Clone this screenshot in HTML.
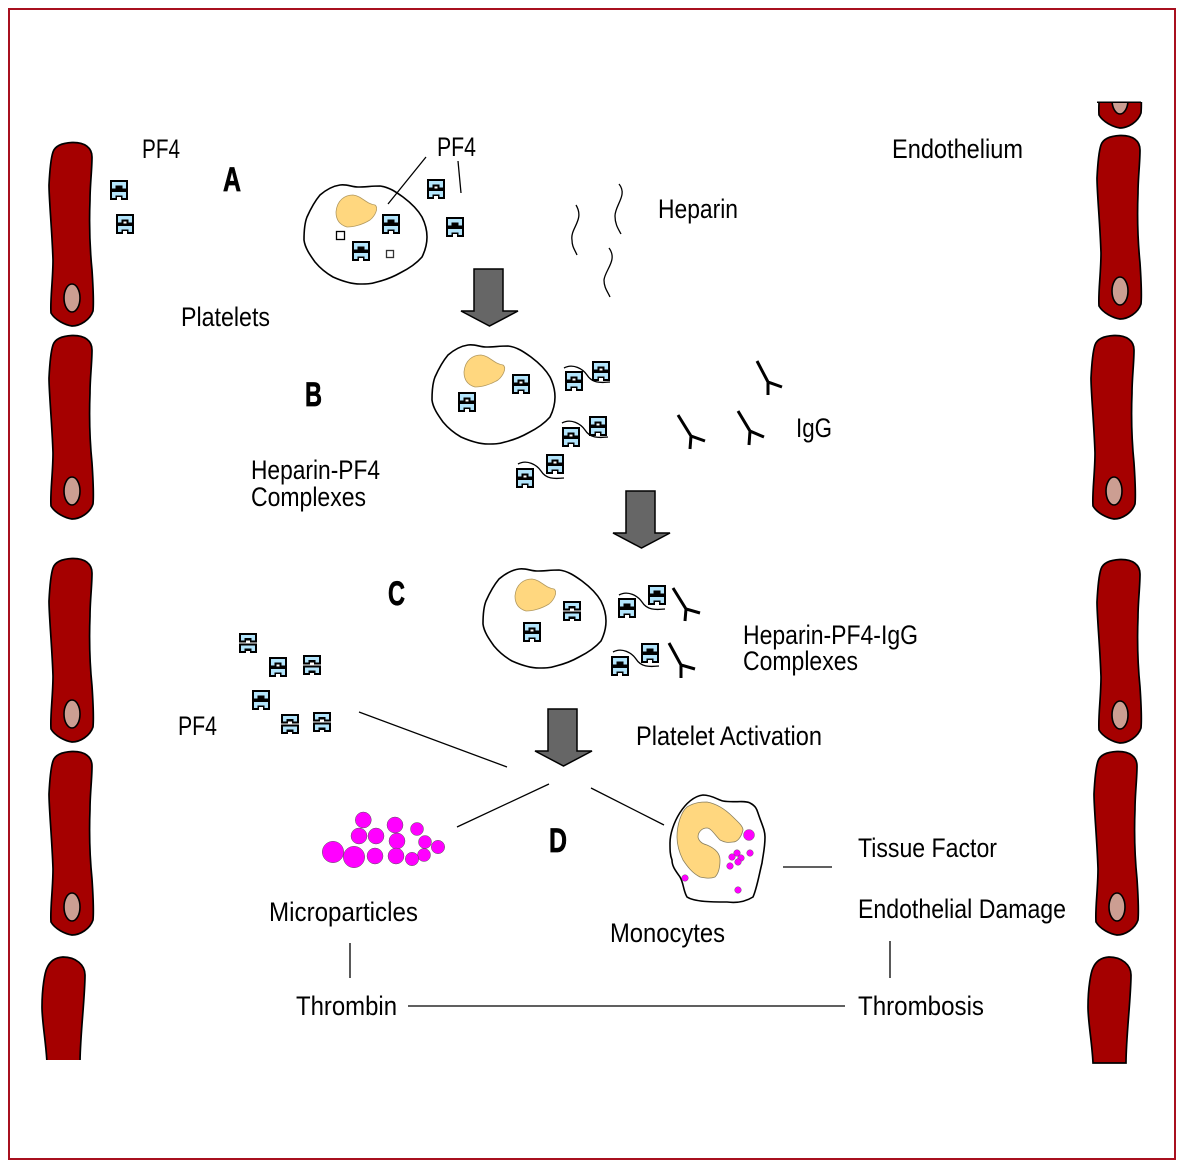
<!DOCTYPE html>
<html><head><meta charset="utf-8"><style>
html,body{margin:0;padding:0;background:#fff}
svg{display:block}
text{font-family:"Liberation Sans",sans-serif;font-size:27px;fill:#000}
.l{font-weight:bold;font-size:34px;stroke:#000;stroke-width:.7px}
</style></head><body>
<svg width="1185" height="1167" viewBox="0 0 1185 1167" xmlns="http://www.w3.org/2000/svg">
<defs>
<g id="cell">
<path d="M23,.5C36,0 43,6 43,15C43,28 41,43 41,58C40,83 41,108 43,128C44,143 45,158 44,169C41,178 31,184 23,184C16,183 6,178 2,171C1,158 4,138 4,118C3,88 0,58 0,43C1,23 3,13 4,10C6,4 13,1 23,.5Z" fill="#A50000" stroke="#000" stroke-width="1.700"/>
<ellipse cx="23" cy="156" rx="8" ry="14" fill="#CC9E92" stroke="#000" stroke-width="1.600"/>
</g>
<g id="pa">
<rect width="18" height="20" fill="#000"/>
<path d="M2,2H16V8.500H12.500V5.500H5.500V8.500H2ZM2,12H16V18H12.500V15.500H5.500V18H2Z" fill="#B3E5FC"/>
<path d="M7.500,7.500h3v2h-3ZM7,17h4V20H7Z" fill="#fff"/>
</g>
<g id="pb">
<rect width="18" height="20" fill="#000"/>
<path d="M2,2H16V8.500H12.500V5.500H5.500V8.500H2ZM2,12H16V18H12.500V15.500H5.500V18H2Z" fill="#B3E5FC"/>
<path d="M7,17h4V20H7Z" fill="#fff"/>
</g>
<g id="pc">
<path d="M0,0H18V9.500H11V7.500H7V9.500H0ZM0,10.500H18V20H11V18H7V20H0Z" fill="#000"/>
<path d="M2,2H16V7.500H12.500V5H5.500V7.500H2ZM2,12.500H16V18H12.500V15.500H5.500V18H2Z" fill="#B3E5FC"/>
</g>
<path id="plate" d="M304,240C304,228 305,222 307,217C311,208 315,201 320,195C327,189 333,186 340,185C347,184 352,187 358,187C365,187 372,186 380,186C389,187 396,192 403,197C411,203 418,210 422,217C425,223 427,230 427,237C427,244 425,251 422,257C416,264 408,269 400,273C393,277 385,280 377,282C371,284 366,284 360,284C351,284 342,281 333,277C326,273 320,268 315,262C310,255 305,248 304,240Z" fill="#fff" stroke="#000" stroke-width="1.600"/>
<path id="nuc" d="M336,212C337,200 345,195 353,195C362,196 366,204 375,205C379,208 375,216 370,220C362,225 353,227 347,227C340,225 336,220 336,212Z" fill="#FFD77F" stroke="#B39A60" stroke-width=".8"/>
<path id="hep" d="M0,4C9,-1 19,5 23,11C28,19 36,19 46,18" fill="none" stroke="#000" stroke-width="1.300"/>
<path id="arrow" d="M13,0H42V42H57L28.500,57L0,42H13Z" fill="#666" stroke="#000" stroke-width="1.500"/>
<clipPath id="cl2"><rect x="0" y="158" width="60" height="30"/></clipPath>
<path id="crop" d="M20,0C33,0 42,8 42,18C42,40 37,80 37,106H4C3,85 -1,65 -1,50C-1,30 2,15 4,11C7,4 12,.5 20,0Z" fill="#A50000" stroke="#000" stroke-width="1.700"/>
<clipPath id="cl3"><rect x="-5" y="-3" width="60" height="106"/></clipPath>
</defs>
<rect x="9" y="9" width="1166" height="1150" fill="#fff" stroke="#A8101F" stroke-width="2"/>

<use href="#cell" x="49" y="142"/>
<use href="#cell" x="49" y="335"/>
<use href="#cell" x="49" y="558"/>
<use href="#cell" x="49" y="751"/>
<g transform="translate(43,957)" clip-path="url(#cl3)"><use href="#crop"/></g>
<use href="#cell" x="1097" y="135"/>
<use href="#cell" x="1091" y="335"/>
<use href="#cell" x="1097" y="559"/>
<use href="#cell" x="1094" y="751"/>
<g transform="translate(1089,957)"><use href="#crop"/></g>
<g transform="translate(1097,-56)" clip-path="url(#cl2)"><use href="#cell"/></g>
<rect x="1097" y="101.500" width="44" height="1.500" fill="#000"/>

<use href="#plate"/><use href="#nuc"/>
<g transform="translate(128,160)"><use href="#plate"/><use href="#nuc"/></g>
<g transform="translate(179,384)"><use href="#plate"/><use href="#nuc"/></g>

<rect x="336.500" y="231.500" width="8" height="8" fill="#fff" stroke="#000" stroke-width="1.300"/>
<rect x="386.500" y="250.500" width="7" height="7" fill="#fff" stroke="#333" stroke-width="1.300"/>

<use href="#arrow" x="461" y="269"/>
<use href="#arrow" x="613" y="491"/>
<use href="#arrow" x="535" y="709"/>

<g fill="none" stroke="#000" stroke-width="1.300">
<path d="M619,184C628,195 615,205 615,216C615,225 619,230 621,234"/>
<path d="M576,205C585,220 570,228 572,240C572,247 575,250 577,255"/>
<path d="M609,248C618,260 605,270 604,280C604,288 608,292 610,297"/>
</g>

<use href="#hep" x="564" y="364"/>
<use href="#hep" x="562" y="419"/>
<use href="#hep" x="518" y="460"/>
<use href="#hep" x="619" y="591"/>
<use href="#hep" x="613" y="648"/>

<use href="#pb" x="110" y="180"/>
<use href="#pa" x="116" y="214"/>
<use href="#pb" x="382" y="214"/>
<use href="#pb" x="352" y="241"/>
<use href="#pa" x="427" y="179"/>
<use href="#pb" x="446" y="217"/>
<use href="#pa" x="512" y="374"/>
<use href="#pa" x="458" y="392"/>
<use href="#pa" x="565" y="371"/>
<use href="#pa" x="592" y="361"/>
<use href="#pa" x="562" y="427"/>
<use href="#pa" x="589" y="416"/>
<use href="#pa" x="516" y="468"/>
<use href="#pa" x="546" y="454"/>
<use href="#pc" x="563" y="601"/>
<use href="#pa" x="523" y="622"/>
<use href="#pb" x="618" y="598"/>
<use href="#pb" x="648" y="585"/>
<use href="#pb" x="611" y="656"/>
<use href="#pb" x="641" y="643"/>
<use href="#pc" x="239" y="633"/>
<use href="#pa" x="269" y="657"/>
<use href="#pc" x="303" y="655"/>
<use href="#pb" x="252" y="690"/>
<use href="#pc" x="281" y="714"/>
<use href="#pc" x="313" y="712"/>

<g fill="none" stroke="#000" stroke-width="3" stroke-linejoin="miter">
<path d="M757,361L768,382L782,387M768,382L768,395"/>
<path d="M678,415L691,436L705,441M691,436L690,449"/>
<path d="M738,411L750,431L764,437M750,431L749,445"/>
<path d="M673,588L686,609L700,613M686,609L685,621"/>
<path d="M669,643L681,665L695,669M681,665L681,678"/>
</g>

<g stroke="#000" stroke-width="1.300" fill="none">
<path d="M426,157L388,204M458,161L461,193M359,712L507,767M549,784L457,827M591,788L664,825M783,867H832M350,943V978M890,941V978M408,1006H845"/>
</g>

<g fill="#FF00FF" stroke="#555" stroke-width=".5">
<circle cx="363.300" cy="820" r="8"/><circle cx="359" cy="836" r="8"/><circle cx="376" cy="836" r="8"/>
<circle cx="395" cy="825" r="8"/><circle cx="397" cy="841" r="8"/><circle cx="417" cy="829" r="6.500"/>
<circle cx="425" cy="842" r="6.500"/><circle cx="438" cy="847" r="6.700"/><circle cx="424" cy="855" r="6.500"/>
<circle cx="412" cy="859" r="6.700"/><circle cx="396" cy="856" r="8"/><circle cx="375" cy="856" r="8"/>
<circle cx="354" cy="857" r="10.700"/><circle cx="333" cy="852" r="10.700"/>
</g>

<path d="M670,843C670,825 685,797 703,795C712,795 718,800 723,801C733,803 745,800 750,803C756,806 757,810 758,813C762,825 765,830 765,837C765,848 763,855 762,863C759,875 757,888 753,897C745,902 735,903 727,902C712,902 695,902 687,897C683,890 684,884 680,877C675,870 672,866 672,860C670,855 670,850 670,843Z" fill="#fff" stroke="#000" stroke-width="1.600"/>
<path d="M677,837C677,825 681,812 687,807C695,802 702,802 707,802C718,804 727,811 733,817C738,822 743,826 743,830C741,838 737,842 733,842C727,843 724,842 720,840C715,835 711,828 707,828C702,828 698,832 698,837C699,842 703,844 707,845C714,848 720,853 720,860C720,868 718,874 715,877C710,879 705,878 700,877C692,873 687,866 683,860C679,852 677,845 677,837Z" fill="#FFD77F" stroke="#8a8060" stroke-width=".8"/>
<g fill="#FF00FF" stroke="#555" stroke-width=".4">
<circle cx="749" cy="835" r="5.500"/><circle cx="750" cy="853" r="3.300"/><circle cx="737" cy="853" r="3.300"/>
<circle cx="732" cy="857" r="3.300"/><circle cx="741" cy="858" r="3.300"/><circle cx="738" cy="862" r="3.300"/>
<circle cx="730" cy="866" r="3.300"/><circle cx="685" cy="878" r="3.300"/><circle cx="738" cy="890" r="3.300"/>
</g>

<text x="142" y="158" textLength="38" lengthAdjust="spacingAndGlyphs">PF4</text>
<text x="437" y="156" textLength="39" lengthAdjust="spacingAndGlyphs">PF4</text>
<text x="892" y="158" textLength="131" lengthAdjust="spacingAndGlyphs">Endothelium</text>
<text x="658" y="218" textLength="80" lengthAdjust="spacingAndGlyphs">Heparin</text>
<text x="181" y="326" textLength="89" lengthAdjust="spacingAndGlyphs">Platelets</text>
<text x="796" y="437" textLength="36" lengthAdjust="spacingAndGlyphs">IgG</text>
<text x="251" y="479" textLength="129" lengthAdjust="spacingAndGlyphs">Heparin-PF4</text>
<text x="251" y="506" textLength="115" lengthAdjust="spacingAndGlyphs">Complexes</text>
<text x="743" y="644" textLength="175" lengthAdjust="spacingAndGlyphs">Heparin-PF4-IgG</text>
<text x="743" y="670" textLength="115" lengthAdjust="spacingAndGlyphs">Complexes</text>
<text x="178" y="735" textLength="39" lengthAdjust="spacingAndGlyphs">PF4</text>
<text x="636" y="745" textLength="186" lengthAdjust="spacingAndGlyphs">Platelet Activation</text>
<text x="858" y="857" textLength="139" lengthAdjust="spacingAndGlyphs">Tissue Factor</text>
<text x="269" y="921" textLength="149" lengthAdjust="spacingAndGlyphs">Microparticles</text>
<text x="858" y="918" textLength="208" lengthAdjust="spacingAndGlyphs">Endothelial Damage</text>
<text x="610" y="942" textLength="115" lengthAdjust="spacingAndGlyphs">Monocytes</text>
<text x="296" y="1015" textLength="101" lengthAdjust="spacingAndGlyphs">Thrombin</text>
<text x="858" y="1015" textLength="126" lengthAdjust="spacingAndGlyphs">Thrombosis</text>
<text class="l" x="223" y="191" textLength="18" lengthAdjust="spacingAndGlyphs">A</text>
<text class="l" x="305" y="406" textLength="17" lengthAdjust="spacingAndGlyphs">B</text>
<text class="l" x="388" y="605" textLength="17" lengthAdjust="spacingAndGlyphs">C</text>
<text class="l" x="549" y="852" textLength="18" lengthAdjust="spacingAndGlyphs">D</text>
</svg>
</body></html>
